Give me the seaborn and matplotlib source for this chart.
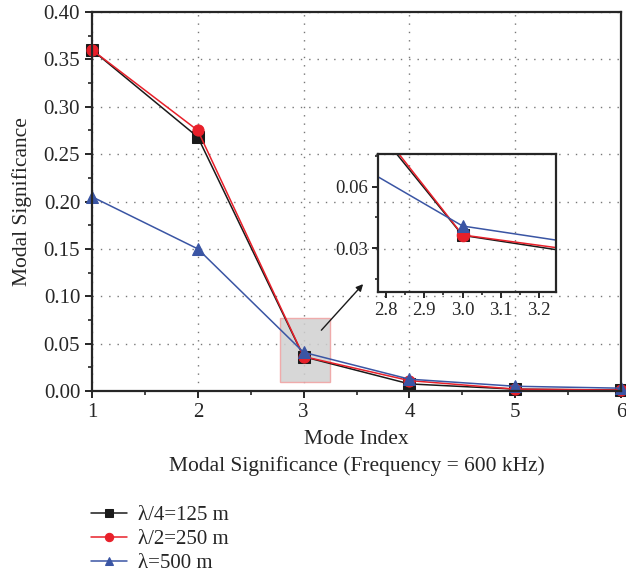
import numpy as np
import pandas as pd
import seaborn as sns
import matplotlib.pyplot as plt
from matplotlib.ticker import MultipleLocator, FormatStrFormatter
from matplotlib.patches import Rectangle

modes = [1, 2, 3, 4, 5, 6]
quarter = [0.360, 0.268, 0.0362, 0.0075, 0.002, 0.001]
half = [0.360, 0.275, 0.0364, 0.0110, 0.002, 0.001]
full = [0.205, 0.150, 0.0408, 0.0125, 0.005, 0.003]
labels = ['λ/4=125 m', 'λ/2=250 m', 'λ=500 m']

sns.set_style('ticks')
plt.rcParams['font.family'] = ['Liberation Serif', 'DejaVu Serif']
plt.rcParams['font.size'] = 15

series = [
    (quarter, '#1a1a1a', 's', labels[0]),
    (half, '#e8202a', 'o', labels[1]),
    (full, '#3a55a4', '^', labels[2]),
]

fig = plt.figure(figsize=(6.26, 5.73), dpi=100)
ax = fig.add_axes([0.147, 0.3176, 0.845, 0.6614])

def draw(a, ms, leg, clip):
    for vals, c, m, lab in series:
        sns.lineplot(x=modes, y=vals, ax=a, color=c, marker=m, markersize=ms,
                     markeredgecolor=c, linewidth=1.1, label=lab if leg else None,
                     legend=False, clip_on=clip)

draw(ax, 8, True, False)
ax.set_xlim(1, 6)
ax.set_ylim(0, 0.40)
ax.xaxis.set_major_locator(MultipleLocator(1))
ax.xaxis.set_minor_locator(MultipleLocator(0.5))
ax.yaxis.set_major_locator(MultipleLocator(0.05))
ax.yaxis.set_minor_locator(MultipleLocator(0.025))
ax.yaxis.set_major_formatter(FormatStrFormatter('%.2f'))
ax.grid(True, which='major', linestyle=(0, (1, 5)), color='#777777', linewidth=1)
for s in ax.spines.values():
    s.set_linewidth(1.6)
ax.tick_params(which='major', width=1.4, length=5, labelsize=15)
ax.tick_params(which='minor', width=1.2, length=3)
ax.set_ylabel('Modal Significance', fontsize=15.5, labelpad=8)
ax.set_xlabel('Mode Index\nModal Significance (Frequency = 600 kHz)', fontsize=15.5,
              linespacing=1.45, labelpad=6)

# zoom region
ax.add_patch(Rectangle((2.777, 0.0095), 0.47, 0.0675, facecolor='#d0d0d0',
                       edgecolor='#f0a0a0', alpha=0.85, linewidth=1, zorder=1))
ax.annotate('', xy=(3.58, 0.115), xytext=(3.15, 0.062),
            arrowprops=dict(arrowstyle='-|>', color='#1a1a1a', lw=1.0,
                            mutation_scale=10))

# inset
ins = fig.add_axes([0.604, 0.4904, 0.284, 0.241])
ins.patch.set_alpha(0)
draw(ins, 9, False, True)
ins.set_xlim(2.779, 3.244)
ins.set_ylim(0.0084, 0.0762)
ins.xaxis.set_major_locator(MultipleLocator(0.1))
ins.xaxis.set_minor_locator(MultipleLocator(0.05))
ins.yaxis.set_major_locator(MultipleLocator(0.03))
ins.yaxis.set_minor_locator(MultipleLocator(0.015))
ins.xaxis.set_major_formatter(FormatStrFormatter('%.1f'))
ins.yaxis.set_major_formatter(FormatStrFormatter('%.2f'))
for s in ins.spines.values():
    s.set_linewidth(1.6)
ins.tick_params(which='major', width=1.4, length=4, labelsize=13.5)
ins.tick_params(which='minor', width=1.2, length=2.5)

h, l = ax.get_legend_handles_labels()
fig.legend(h, l, loc='lower left', bbox_to_anchor=(0.128, -0.018), frameon=False,
           fontsize=15, handlelength=1.75, handletextpad=0.55, labelspacing=0.2,
           borderaxespad=0.1, markerscale=0.75)

fig.savefig('out.png', dpi=100)
